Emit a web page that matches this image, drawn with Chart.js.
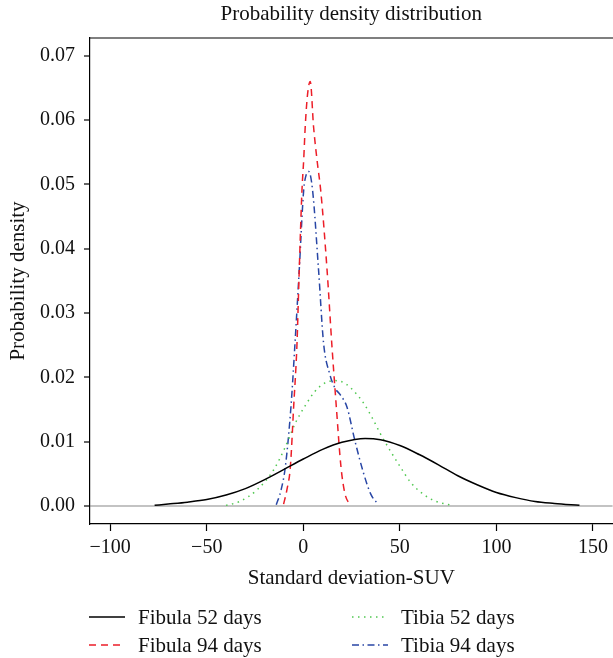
<!DOCTYPE html>
<html>
<head>
<meta charset="utf-8">
<script src="https://cdn.jsdelivr.net/npm/chart.js@4.4.1/dist/chart.umd.min.js"></script>
<style>
  body { margin: 0; background: #fff; overflow: hidden; }
  #wrap { position: relative; width: 613px; height: 658px; overflow: hidden; }
  #legend { position: absolute; left: 0; top: 0; font-family: "Liberation Serif", serif; font-size: 21px; color: #111; }
  .item { position: absolute; display: flex; align-items: center; white-space: nowrap; }
  .item svg { margin-right: 13px; }
</style>
</head>
<body>
<div id="wrap">
  <canvas id="chart" width="613" height="658"></canvas>
  <div id="legend"></div>
</div>
<script>
// values
const seriesNames = ["Fibula 52 days", "Fibula 94 days", "Tibia 52 days", "Tibia 94 days"];

const fibula52X = [-77, -70, -60, -50, -40, -30, -20, -10, 0, 10, 20, 32, 40, 50, 60, 70, 80, 90, 100, 110, 120, 130, 143];
const fibula52Y = [0.0001, 0.0003, 0.0006, 0.0010, 0.0017, 0.0027, 0.0041, 0.0057, 0.0073, 0.0088, 0.0099, 0.0105, 0.0103, 0.0094, 0.0080, 0.0064, 0.0047, 0.0033, 0.0021, 0.0013, 0.0007, 0.0004, 0.0001];

const fibula94X = [-10.2, -8.5, -6.7, -5.0, -3.3, -2.1, -0.7, 0.2, 1.0, 2.2, 3.6, 5.3, 7.1, 9.1, 12.3, 14.8, 17.1, 19.5, 21.5, 24];
const fibula94Y = [0.0003, 0.0025, 0.0061, 0.0154, 0.0250, 0.0367, 0.0490, 0.0538, 0.0590, 0.0640, 0.0660, 0.0590, 0.0538, 0.0488, 0.0367, 0.0250, 0.0154, 0.0061, 0.0020, 0.0002];

const tibia52X = [-40, -33, -24, -15.4, -9.3, -4.1, 1.0, 6, 11, 16.5, 22, 27, 31.2, 35.5, 39.8, 45, 50.2, 55.5, 61.4, 68, 77];
const tibia52Y = [0.0001, 0.0007, 0.0025, 0.0056, 0.0092, 0.0129, 0.0156, 0.0178, 0.0191, 0.0195, 0.0190, 0.0176, 0.0160, 0.0138, 0.0113, 0.0086, 0.0061, 0.0037, 0.0020, 0.0008, 0.0001];

const tibia94X = [-14, -11.5, -9.3, -6.4, -4.3, -2.1, 0.2, 1.5, 2.8, 4.8, 7.9, 10.5, 13.6, 16.5, 19.1, 22.6, 26.6, 31.2, 35, 39];
const tibia94Y = [0.0002, 0.0025, 0.0061, 0.0154, 0.0253, 0.0367, 0.0491, 0.0515, 0.0520, 0.0491, 0.0367, 0.0253, 0.0206, 0.0183, 0.0173, 0.0154, 0.0103, 0.0051, 0.0018, 0.0002];

const xTicks = [-100, -50, 0, 50, 100, 150];
const yTicks = [0, 0.01, 0.02, 0.03, 0.04, 0.05, 0.06, 0.07];

// line styles
const colors = ["#000000", "rgb(236,30,40)", "rgb(80,200,80)", "rgb(40,70,165)"];
const dashes = [[], [7, 5], [1.5, 4.5], [7, 3.5, 1.5, 3.5]];

const FONT = "'Liberation Serif', 'Times New Roman', serif";
const X_MIN = -110.45, X_MAX = 160.14;

function pts(xs, ys) {
    return xs.map((x, i) => ({ x: x, y: ys[i] }));
}

const seriesData = [pts(fibula52X, fibula52Y), pts(fibula94X, fibula94Y), pts(tibia52X, tibia52Y), pts(tibia94X, tibia94Y)];

// top edge of the plot box (right edge is cut off in the reference)
const frame = {
    id: "frame",
    afterDraw(chart) {
        const a = chart.chartArea, ctx = chart.ctx;
        ctx.save();
        ctx.strokeStyle = "#000";
        ctx.lineWidth = 1.2;
        ctx.beginPath();
        ctx.moveTo(a.left, a.top);
        ctx.lineTo(a.right + 2, a.top);
        ctx.stroke();
        ctx.restore();
    }
};

const ctx = document.getElementById("chart").getContext("2d");
new Chart(ctx, {
    type: "line",
    data: {
        datasets: seriesNames.map((name, i) => ({
            label: name,
            data: seriesData[i],
            xAxisID: "x",
            borderColor: colors[i],
            borderDash: dashes[i],
            borderWidth: 1.5,
            pointRadius: 0,
            fill: false,
            cubicInterpolationMode: "monotone"
        }))
    },
    options: {
        responsive: false,
        animation: false,
        devicePixelRatio: 1,
        layout: { padding: { top: 0, left: 0, right: 0, bottom: 64 } },
        plugins: {
            legend: { display: false },
            tooltip: { enabled: false }
        },
        scales: {
            x: {
                type: "linear",
                min: X_MIN,
                max: X_MAX,
                afterBuildTicks: s => { s.ticks = xTicks.map(v => ({ value: v })); },
                afterFit: s => { s.height = 70; },
                grid: { drawOnChartArea: false, tickLength: 7, tickColor: "#000", tickWidth: 1.2 },
                border: { color: "#000", width: 1.2 },
                ticks: {
                    padding: 5,
                    color: "#111",
                    font: { family: FONT, size: 20 },
                    callback: v => (v < 0 ? "\u2212" + Math.abs(v) : String(v))
                },
                title: {
                    display: true,
                    text: "Standard deviation-SUV",
                    color: "#111",
                    font: { family: FONT, size: 21 },
                    padding: { top: 4, bottom: 3.4 }
                }
            },
            // top axis only carries the chart title, centred over the plot
            top: {
                type: "linear",
                position: "top",
                min: X_MIN,
                max: X_MAX,
                afterFit: s => { s.height = 38; },
                grid: { display: false },
                border: { display: false },
                ticks: { display: false },
                title: {
                    display: true,
                    text: "Probability density distribution",
                    color: "#111",
                    font: { family: FONT, size: 21 },
                    padding: { top: 1.4, bottom: 0 }
                }
            },
            y: {
                type: "linear",
                min: -0.002798,
                max: 0.072752,
                afterBuildTicks: s => { s.ticks = yTicks.map(v => ({ value: v })); },
                afterFit: s => { s.width = 90; },
                grid: {
                    color: c => (c.tick && c.tick.value === 0 ? "rgb(195,195,195)" : "rgba(0,0,0,0)"),
                    lineWidth: 2,
                    tickLength: 6,
                    tickColor: "#000",
                    tickWidth: 1.2
                },
                border: { color: "#000", width: 1.2 },
                ticks: {
                    padding: 9,
                    color: "#111",
                    font: { family: FONT, size: 20 },
                    callback: v => v.toFixed(2)
                },
                title: {
                    display: true,
                    text: "Probability density",
                    color: "#111",
                    font: { family: FONT, size: 21 },
                    padding: { top: 5.4, bottom: 0 }
                }
            }
        }
    },
    plugins: [frame]
});

// legend in two columns under the chart
const legendPos = [[89, 617], [89, 645], [352, 617], [352, 645]];
const legend = document.getElementById("legend");
seriesNames.forEach((name, i) => {
    const item = document.createElement("div");
    item.className = "item";
    item.style.left = legendPos[i][0] + "px";
    item.style.top = (legendPos[i][1] - 13) + "px";
    item.style.height = "26px";
    item.innerHTML =
        '<svg width="36" height="6"><line x1="0" y1="3" x2="36" y2="3" stroke="' + colors[i] +
        '" stroke-width="1.5" stroke-dasharray="' + (dashes[i].length ? dashes[i].join(",") : "none") +
        '"/></svg><span>' + name + '</span>';
    legend.appendChild(item);
});
</script>
</body>
</html>
